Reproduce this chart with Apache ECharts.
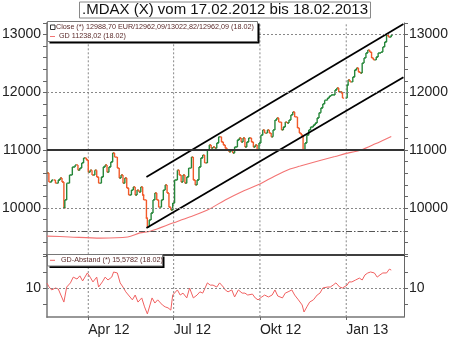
<!DOCTYPE html>
<html><head><meta charset="utf-8">
<script src="https://cdn.jsdelivr.net/npm/echarts@6/dist/echarts.min.js"></script>
<style>html,body{margin:0;padding:0;background:#fff}#c{width:450px;height:338px}</style>
</head><body><div id="c"></div>
<script>
const closeDates = [
'2012-02-17','2012-02-19','2012-02-22','2012-02-26','2012-02-29','2012-03-02','2012-03-04','2012-03-06','2012-03-07','2012-03-09',
'2012-03-12','2012-03-15','2012-03-18','2012-03-21','2012-03-23','2012-03-25','2012-03-27','2012-03-30','2012-04-01','2012-04-03',
'2012-04-05','2012-04-08','2012-04-10','2012-04-12','2012-04-15','2012-04-17','2012-04-19','2012-04-21','2012-04-23','2012-04-25',
'2012-04-27','2012-04-29','2012-05-02','2012-05-04','2012-05-06','2012-05-08','2012-05-10','2012-05-12','2012-05-14','2012-05-17',
'2012-05-19','2012-05-21','2012-05-23','2012-05-25','2012-05-27','2012-05-29','2012-05-30','2012-06-02','2012-06-03','2012-06-05',
'2012-06-07','2012-06-09','2012-06-11','2012-06-13','2012-06-15','2012-06-18','2012-06-20','2012-06-22','2012-06-24','2012-06-26',
'2012-06-28','2012-06-30','2012-07-02','2012-07-05','2012-07-07','2012-07-09','2012-07-11','2012-07-13','2012-07-15','2012-07-17',
'2012-07-20','2012-07-22','2012-07-24','2012-07-26','2012-07-28','2012-07-30','2012-08-01','2012-08-03','2012-08-06','2012-08-08',
'2012-08-10','2012-08-12','2012-08-14','2012-08-16','2012-08-18','2012-08-21','2012-08-23','2012-08-25','2012-08-27','2012-08-29',
'2012-08-31','2012-09-02','2012-09-04','2012-09-07','2012-09-09','2012-09-11','2012-09-13','2012-09-15','2012-09-17','2012-09-19',
'2012-09-22','2012-09-24','2012-09-26','2012-09-28','2012-09-30','2012-10-02','2012-10-04','2012-10-06','2012-10-09','2012-10-11',
'2012-10-13','2012-10-15','2012-10-17','2012-10-19','2012-10-21','2012-10-24','2012-10-26','2012-10-28','2012-10-30','2012-11-01',
'2012-11-03','2012-11-05','2012-11-07','2012-11-10','2012-11-12','2012-11-14','2012-11-16','2012-11-18','2012-11-20','2012-11-22',
'2012-11-24','2012-11-27','2012-11-29','2012-12-01','2012-12-03','2012-12-05','2012-12-07','2012-12-09','2012-12-12','2012-12-14',
'2012-12-16','2012-12-18','2012-12-20','2012-12-22','2012-12-24','2012-12-26','2012-12-27','2012-12-28','2013-01-02','2013-01-03',
'2013-01-05','2013-01-08','2013-01-10','2013-01-12','2013-01-14','2013-01-16','2013-01-18','2013-01-20','2013-01-22','2013-01-24',
'2013-01-26','2013-01-28','2013-01-30','2013-02-02','2013-02-04','2013-02-07','2013-02-09','2013-02-11','2013-02-13','2013-02-15',
'2013-02-18'];
const closeValues = [
10605,10450,10485,10430,10485,10520,10450,10000,10140,10430,
10570,10710,10745,10655,10690,10780,10865,10830,10620,10655,
10570,10655,10535,10430,10535,10710,10745,10620,10710,10795,
10950,10880,10690,10520,10570,10430,10520,10345,10225,10310,
10365,10225,10310,10275,10365,10225,10140,9825,9670,9795,
9915,10140,10260,10140,10015,10140,10310,10400,10260,10015,
9965,10085,10485,10655,10570,10450,10570,10430,10535,10690,
10880,10485,10400,10485,10710,10865,10915,10780,11005,11090,
11035,11055,11035,11125,11230,11140,11090,11035,11005,10970,
11005,10950,11055,11175,11210,11140,11210,11055,11140,11210,
11140,11055,11090,11005,11125,11260,11350,11295,11350,11295,
11230,11350,11520,11555,11485,11350,11400,11485,11470,11520,
11610,11660,11575,11385,11295,11260,11005,11125,11260,11350,
11400,11435,11470,11555,11645,11730,11800,11865,11900,11935,
11955,11955,12040,12075,12005,12005,11990,11900,12125,12215,
12180,12265,12385,12420,12350,12335,12505,12595,12680,12730,
12695,12595,12560,12610,12680,12695,12785,12870,12990,12955,
12989];
const gdDates = ['2012-02-17','2012-03-12','2012-04-14','2012-05-13','2012-05-26','2012-06-06','2012-06-30','2012-07-18','2012-08-06','2012-08-25','2012-09-10','2012-10-01','2012-10-17','2012-11-02','2012-11-13','2012-12-04','2012-12-20','2012-12-31','2013-01-16','2013-02-01','2013-02-18'];
const gdValues = [9515,9500,9480,9500,9570,9600,9740,9845,9965,10140,10270,10415,10555,10675,10725,10820,10890,10940,11000,11110,11238];
const abstandDates = [
'2012-02-17','2012-02-19','2012-02-22','2012-02-26','2012-02-29','2012-03-02','2012-03-06','2012-03-09','2012-03-13','2012-03-16',
'2012-03-20','2012-03-23','2012-03-26','2012-03-31','2012-04-03','2012-04-06','2012-04-10','2012-04-12','2012-04-16','2012-04-19',
'2012-04-22','2012-04-26','2012-04-28','2012-05-02','2012-05-05','2012-05-08','2012-05-11','2012-05-13','2012-05-18','2012-05-21',
'2012-05-24','2012-05-28','2012-05-31','2012-06-03','2012-06-05','2012-06-08','2012-06-11','2012-06-14','2012-06-19','2012-06-22',
'2012-06-25','2012-06-28','2012-06-30','2012-07-05','2012-07-08','2012-07-11','2012-07-15','2012-07-18','2012-07-22','2012-07-26',
'2012-07-29','2012-08-01','2012-08-06','2012-08-09','2012-08-12','2012-08-16','2012-08-19','2012-08-23','2012-08-25','2012-08-28',
'2012-09-01','2012-09-04','2012-09-08','2012-09-12','2012-09-15','2012-09-18','2012-09-23','2012-09-26','2012-09-29','2012-10-03',
'2012-10-06','2012-10-10','2012-10-14','2012-10-17','2012-10-20','2012-10-25','2012-10-28','2012-10-31','2012-11-04','2012-11-07',
'2012-11-11','2012-11-15','2012-11-17','2012-11-20','2012-11-23','2012-11-27','2012-12-01','2012-12-04','2012-12-07','2012-12-12',
'2012-12-15','2012-12-18','2012-12-21','2012-12-25','2012-12-28','2013-01-02','2013-01-04','2013-01-07','2013-01-11','2013-01-15',
'2013-01-18','2013-01-21','2013-01-24','2013-01-27','2013-01-31','2013-02-03','2013-02-06','2013-02-09','2013-02-13','2013-02-16',
'2013-02-18'];
const abstandValues = [
11.5,10.4,9.4,10.0,9.7,10.3,5.6,10.3,11.6,13.4,
12.8,13.8,12.2,14.7,13.4,11.9,13.4,10.3,11.9,13.4,
12.5,13.4,15.0,14.7,11.6,10.3,8.8,9.4,6.3,7.8,
5.6,6.9,4.1,1.9,2.5,6.9,5.3,6.3,4.7,4.1,
3.8,3.1,7.8,9.4,7.8,8.4,6.9,10.0,6.9,7.8,
8.8,8.4,11.6,10.9,10.9,10.3,11.6,10.3,9.4,8.8,
9.4,7.2,9.4,8.4,8.4,7.8,8.1,6.9,6.3,7.2,
7.8,7.2,7.8,9.4,7.5,6.9,8.4,8.8,9.4,7.8,
6.3,4.7,2.5,4.1,5.6,6.3,7.8,8.4,10.0,10.3,
10.3,10.9,11.6,10.3,10.0,10.9,11.9,11.9,12.5,13.1,
12.5,14.1,14.7,15.0,14.7,13.4,14.1,14.7,14.7,15.9,
15.6];
const channelDates = ['2012-06-02','2013-03-03'];
const channelUpperValues = [10536, 13180];
const channelLowerValues = [9654, 12262];
const tickDates = ['2012-04-01','2012-07-01','2012-10-01','2013-01-01'];
const tickLabels = ['Apr 12','Jul 12','Okt 12','Jan 13'];
const priceGridLevels = [10000, 12000, 13000];
const resistanceLevel = 11000;
const supportLevel = 9600;
const abstandGridLevels = [10];
const abstandTickValues = [5, 10, 15, 20];
const titleText = '.MDAX (X) vom 17.02.2012 bis 18.02.2013';
const legendClose = 'Close (*) 12988,70 EUR/12962,09/13022,82/12962,09 (18.02)';
const legendGD = 'GD 11238,02 (18.02)';
const legendAbstand = 'GD-Abstand (*) 15,5782 (18.02)';

const T = s => new Date(s + 'T00:00:00').getTime();
const X_MIN = T('2012-02-17'), X_MAX = T('2013-03-03') + 14 * 3600e3;
const P_MIN = 9200, P_MAX = 13200, A_MIN = 0.94, A_MAX = 20.53;
const tickTs = tickDates.map(T);
const FONT = 'Liberation Sans, Arial, sans-serif';
const GREEN = '#26873a', ORANGE = '#f25a2a', GDC = '#f37474', ABC = '#f06060';
const DOT = {type: [2, 2], color: '#888', width: 1};

const barData = closeDates.map((d, i) => [T(d), i > 0 ? closeValues[i - 1] : closeValues[0], closeValues[i]]);
const zip = (ds, vs) => ds.map((d, i) => [T(d), vs[i]]);

const vGrid = (xi, yi, lo, hi) => tickTs.map(t => ({type: 'line', xAxisIndex: xi, yAxisIndex: yi, z: 0, silent: true, symbol: 'none',
  data: [[t, lo], [t, hi]], lineStyle: DOT}));

const chart = echarts.init(document.getElementById('c'), null, {renderer: 'canvas'});
const yLabel = {fontSize: 14, color: '#222', fontFamily: FONT};
chart.setOption({
  animation: false,
  title: {text: titleText, left: 'center', top: 1.5, padding: [1, 3, 1, 3], borderColor: '#888', borderWidth: 1, backgroundColor: '#fff',
    textStyle: {fontSize: 15, fontWeight: 'normal', color: '#111', fontFamily: FONT}},
  grid: [
    {left: 47, right: 46, top: 22.9, height: 231.4, outerBoundsMode: 'none', containLabel: false},
    {left: 47, right: 46, top: 254.3, height: 62.7, outerBoundsMode: 'none', containLabel: false}
  ],
  xAxis: [
    {gridIndex: 0, type: 'value', min: X_MIN, max: X_MAX, axisLine: {show: true, onZero: false, lineStyle: {color: '#000', width: 1.6}},
      axisTick: {show: false}, axisLabel: {show: false}, splitLine: {show: false}},
    {gridIndex: 1, type: 'value', min: X_MIN, max: X_MAX, axisLine: {show: true, onZero: false, lineStyle: {color: '#777', width: 1.5}},
      axisTick: {show: true, customValues: tickTs, length: 3, lineStyle: {color: '#666'}},
      axisLabel: {show: true, customValues: tickTs, align: 'left', margin: 6, fontSize: 14, color: '#222', fontFamily: FONT,
        formatter: v => { const i = tickTs.findIndex(t => Math.abs(t - v) < 3600e3); return i >= 0 ? tickLabels[i] : ''; }},
      splitLine: {show: false}}
  ],
  yAxis: [
    {gridIndex: 0, type: 'value', position: 'left', min: P_MIN, max: P_MAX, interval: 200,
      axisLine: {show: true, lineStyle: {color: '#999', width: 2}}, axisTick: {show: true, length: 4, lineStyle: {color: '#666'}},
      axisLabel: Object.assign({margin: 6, formatter: v => v % 1000 === 0 ? String(v) : ''}, yLabel), splitLine: {show: false}},
    {gridIndex: 0, type: 'value', position: 'right', min: P_MIN, max: P_MAX, interval: 200,
      axisLine: {show: true, lineStyle: {color: '#666', width: 1}}, axisTick: {show: true, length: 4, lineStyle: {color: '#666'}},
      axisLabel: Object.assign({margin: 5, formatter: v => v % 1000 === 0 ? String(v) : ''}, yLabel), splitLine: {show: false}},
    {gridIndex: 1, type: 'value', position: 'left', min: A_MIN, max: A_MAX,
      axisLine: {show: true, lineStyle: {color: '#999', width: 2}}, axisTick: {show: true, customValues: abstandTickValues, length: 4, lineStyle: {color: '#666'}},
      axisLabel: Object.assign({margin: 6, customValues: abstandGridLevels, formatter: v => String(Math.round(v))}, yLabel), splitLine: {show: false}},
    {gridIndex: 1, type: 'value', position: 'right', min: A_MIN, max: A_MAX,
      axisLine: {show: true, lineStyle: {color: '#666', width: 1}}, axisTick: {show: true, customValues: abstandTickValues, length: 4, lineStyle: {color: '#666'}},
      axisLabel: Object.assign({margin: 5, customValues: abstandGridLevels, formatter: v => String(Math.round(v))}, yLabel), splitLine: {show: false}}
  ],
  series: [
    ...vGrid(0, 0, P_MIN, P_MAX),
    ...vGrid(1, 2, A_MIN, A_MAX),
    {type: 'line', name: 'GD', xAxisIndex: 0, yAxisIndex: 0, z: 1, data: zip(gdDates, gdValues), symbol: 'none', smooth: 0.3,
      lineStyle: {color: GDC, width: 1.1},
      markLine: {symbol: ['none', 'none'], silent: true, label: {show: false}, animation: false,
        data: [
          ...priceGridLevels.map(v => ({yAxis: v, lineStyle: DOT})),
          {yAxis: resistanceLevel, lineStyle: {type: 'solid', color: '#333', width: 2}},
          {yAxis: supportLevel, lineStyle: {type: [6, 2, 1.5, 2], color: '#555', width: 1}}
        ]}},
    {type: 'custom', name: 'Close', xAxisIndex: 0, yAxisIndex: 0, z: 3, clip: true, data: barData, encode: {x: 0, y: [1, 2]},
      renderItem: (params, api) => {
        const x = api.value(0), o = api.value(1), c = api.value(2);
        const p0 = api.coord([x, o]), p1 = api.coord([x, c]);
        const col = c >= o ? GREEN : ORANGE;
        const st = {stroke: col, lineWidth: 1.4};
        return {type: 'group', children: [
          {type: 'line', shape: {x1: p0[0], y1: p0[1], x2: p1[0], y2: p1[1]}, style: st},
          {type: 'line', shape: {x1: p0[0] - 1.6, y1: p0[1], x2: p0[0], y2: p0[1]}, style: st},
          {type: 'line', shape: {x1: p1[0], y1: p1[1], x2: p1[0] + 1.6, y2: p1[1]}, style: st}
        ]};
      }},
    {type: 'line', xAxisIndex: 0, yAxisIndex: 0, z: 4, data: zip(channelDates, channelUpperValues), symbol: 'none', lineStyle: {color: '#000', width: 1.8}},
    {type: 'line', xAxisIndex: 0, yAxisIndex: 0, z: 4, data: zip(channelDates, channelLowerValues), symbol: 'none', lineStyle: {color: '#000', width: 1.8}},
    {type: 'line', name: 'GD-Abstand', xAxisIndex: 1, yAxisIndex: 2, z: 3, data: zip(abstandDates, abstandValues), symbol: 'none',
      lineStyle: {color: ABC, width: 1},
      markLine: {symbol: ['none', 'none'], silent: true, label: {show: false}, animation: false,
        data: abstandGridLevels.map(v => ({yAxis: v, lineStyle: DOT}))}}
  ],
  graphic: [
    {type: 'rect', z: 100, shape: {x: 49.5, y: 23.5, width: 210, height: 20}, style: {fill: '#000'}},
    {type: 'rect', z: 101, shape: {x: 47.5, y: 21.5, width: 210, height: 20}, style: {fill: '#fff', stroke: '#777', lineWidth: 1}},
    {type: 'rect', z: 102, shape: {x: 50.5, y: 25, width: 4.5, height: 4.5}, style: {fill: '#fff', stroke: '#333', lineWidth: 1}},
    {type: 'text', z: 102, x: 56, y: 27.5, style: {text: legendClose, fontSize: 7.2, fill: '#5a2a2a', fontFamily: FONT, verticalAlign: 'middle'}},
    {type: 'line', z: 102, shape: {x1: 50, y1: 36.5, x2: 55, y2: 36.5}, style: {stroke: GDC, lineWidth: 1}},
    {type: 'text', z: 102, x: 59, y: 36.5, style: {text: legendGD, fontSize: 7.2, fill: '#5a2a2a', fontFamily: FONT, verticalAlign: 'middle'}},
    {type: 'rect', z: 100, shape: {x: 49.5, y: 256.5, width: 115, height: 11.5}, style: {fill: '#000'}},
    {type: 'rect', z: 101, shape: {x: 47.5, y: 254.5, width: 115, height: 11.5}, style: {fill: '#fff', stroke: '#777', lineWidth: 1}},
    {type: 'line', z: 102, shape: {x1: 50, y1: 260.3, x2: 55, y2: 260.3}, style: {stroke: ABC, lineWidth: 1}},
    {type: 'text', z: 102, x: 61, y: 260.3, style: {text: legendAbstand, fontSize: 7.2, fill: '#5a2a2a', fontFamily: FONT, verticalAlign: 'middle'}}
  ]
});
</script></body></html>
